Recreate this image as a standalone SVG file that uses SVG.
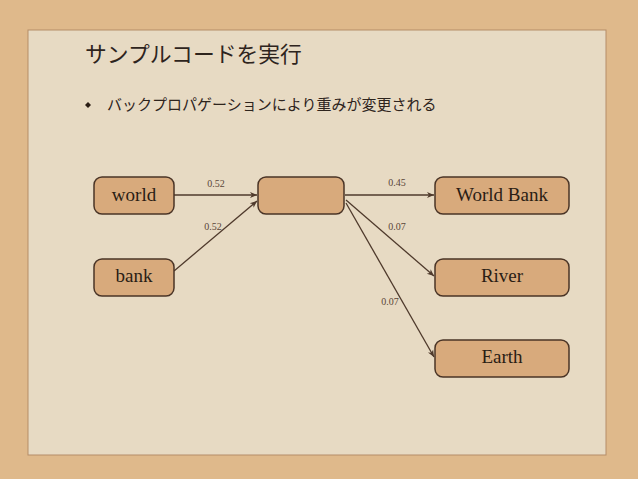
<svg xmlns="http://www.w3.org/2000/svg" width="638" height="479" viewBox="0 0 638 479">
<defs>
<style>
.node rect{fill:#d8aa7c;stroke:#4a3426;stroke-width:1.5}
.node text{font-family:"Liberation Serif",serif;font-size:19px;fill:#2a1d14;text-anchor:middle}
.edge{stroke:#4f3a2c;stroke-width:1.3;fill:none;marker-end:url(#ah)}
.lbl{font-family:"Liberation Serif",serif;font-size:10px;fill:#5a4638;text-anchor:middle}
.jp{font-family:"Noto Sans CJK JP",sans-serif;fill:#2e241d}
</style>
<marker id="ah" markerWidth="8" markerHeight="8" refX="7" refY="4" orient="auto" markerUnits="userSpaceOnUse">
<path d="M0,1 L7,4 L0,7 L2,4 Z" fill="#4f3a2c"/>
</marker>
</defs>
<rect x="0" y="0" width="638" height="479" fill="#dfb98b"/>
<rect x="28" y="30" width="578" height="425" fill="#e7dac3" stroke="#b58d68" stroke-width="1"/>
<text class="jp" x="85" y="62" font-size="21.8">サンプルコードを実行</text>
<path d="M85,105 L88,102 L91,105 L88,108 Z" fill="#2a1d14"/>
<text class="jp" x="107" y="110" font-size="15">バックプロパゲーションにより重みが変更される</text>
<g id="connectors">
<line class="edge" x1="174" y1="195" x2="257" y2="195"/>
<line class="edge" x1="174" y1="271" x2="257" y2="201"/>
<line class="edge" x1="345" y1="195" x2="434" y2="195"/>
<line class="edge" x1="346" y1="200" x2="434" y2="276"/>
<line class="edge" x1="346" y1="203" x2="434" y2="357"/>
<text class="lbl" x="216" y="187">0.52</text>
<text class="lbl" x="213" y="230">0.52</text>
<text class="lbl" x="397" y="186">0.45</text>
<text class="lbl" x="397" y="230">0.07</text>
<text class="lbl" x="390" y="305">0.07</text>
</g>
<g id="world" class="node"><rect x="94" y="177" width="80" height="37" rx="8"/><text x="134" y="201">world</text></g>
<g id="hidden" class="node"><rect x="258" y="177" width="86" height="37" rx="8"/></g>
<g id="bank" class="node"><rect x="94" y="259" width="80" height="37" rx="8"/><text x="134" y="282">bank</text></g>
<g id="worldbank" class="node"><rect x="435" y="177" width="134" height="37" rx="8"/><text x="502" y="201">World Bank</text></g>
<g id="river" class="node"><rect x="435" y="259" width="134" height="37" rx="8"/><text x="502" y="282">River</text></g>
<g id="earth" class="node"><rect x="435" y="340" width="134" height="37" rx="8"/><text x="502" y="363">Earth</text></g>
</svg>
